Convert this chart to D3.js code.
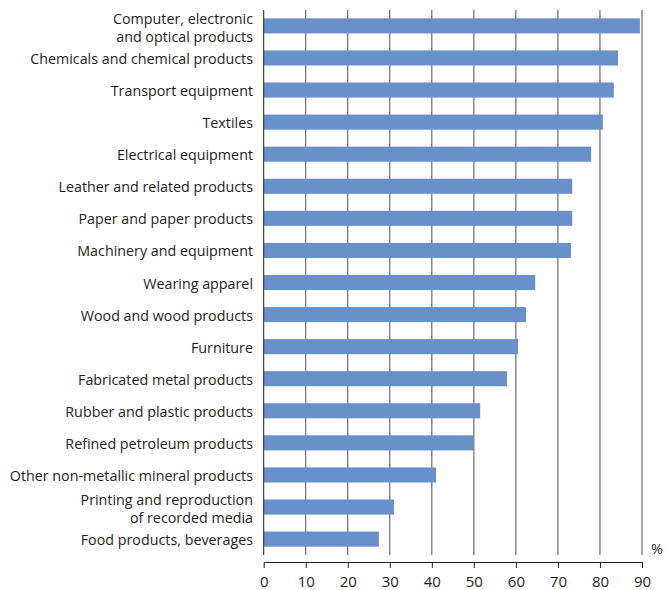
<!DOCTYPE html>
<html>
  <head>
    <meta charset="utf-8" />
    <script src="https://d3js.org/d3.v7.min.js"></script>
    <style>
      body { margin: 0; background: white; }
      text { font-family: "Open Sans", sans-serif; fill: #231f20; }
    </style>
  </head>
  <body>
    <svg id="canvas" width="668" height="590"></svg>
    <script>
      let categories = [
        "Computer, electronic|and optical products",
        "Chemicals and chemical products",
        "Transport equipment",
        "Textiles",
        "Electrical equipment",
        "Leather and related products",
        "Paper and paper products",
        "Machinery and equipment",
        "Wearing apparel",
        "Wood and wood products",
        "Furniture",
        "Fabricated metal products",
        "Rubber and plastic products",
        "Refined petroleum products",
        "Other non-metallic mineral products",
        "Printing and reproduction|of recorded media",
        "Food products, beverages",
      ];
      let values = [89.5, 84.3, 83.3, 80.7, 77.9, 73.4, 73.4, 73.1, 64.6, 62.4, 60.5, 57.9, 51.5, 49.8, 41.0, 31.0, 27.4];
      let ticks = [0, 10, 20, 30, 40, 50, 60, 70, 80, 90];

      let data = categories.map((c, i) => ({ name: c, value: values[i] }));

      let svg = d3.select("#canvas");

      let xScale = d3.scaleLinear().domain([0, 90]).range([263.7, 642]);
      let yScale = d3.scaleBand().domain(categories).range([10, 555]).paddingInner(0.53).paddingOuter(0.26);

      // Gridlines
      svg.append("g")
        .selectAll("line")
        .data(ticks.slice(1))
        .enter()
        .append("line")
        .attr("x1", (d) => xScale(d))
        .attr("x2", (d) => xScale(d))
        .attr("y1", 10)
        .attr("y2", 555)
        .style("stroke", "#4d4d4f")
        .style("stroke-width", "1px");

      // Bars
      svg.append("g")
        .selectAll("rect")
        .data(data)
        .enter()
        .append("rect")
        .attr("x", xScale(0))
        .attr("y", (d) => yScale(d.name))
        .attr("width", (d) => xScale(d.value) - xScale(0))
        .attr("height", yScale.bandwidth())
        .attr("fill", "#6990c9");

      // Vertical axis line
      svg.append("line")
        .attr("x1", xScale(0))
        .attr("x2", xScale(0))
        .attr("y1", 10)
        .attr("y2", 555)
        .style("stroke", "#231f20")
        .style("stroke-width", "1px");

      // Category labels
      let labels = svg.append("g")
        .selectAll("text")
        .data(data)
        .enter()
        .append("text")
        .attr("text-anchor", "end")
        .style("font-size", "14.3px")
        .attr("y", (d) => yScale(d.name) + yScale.bandwidth() / 2 + 1);

      labels.each(function (d) {
        let lines = d.name.split("|");
        let t = d3.select(this);
        lines.forEach((l, i) => {
          t.append("tspan")
            .attr("x", 253)
            .attr("dy", i == 0 ? (lines.length == 1 ? "0.35em" : "-0.2em") : "1.25em")
            .text(l);
        });
      });

      // x axis
      let xAxis = d3.axisBottom(xScale).tickValues(ticks).tickSize(6).tickSizeOuter(0).tickFormat(d3.format("d"));
      let xLine = svg.append("g")
        .attr("transform", "translate(0,562)")
        .call(xAxis);
      xLine.select(".domain").style("stroke", "#231f20");
      xLine.selectAll(".tick line").style("stroke", "#231f20");
      xLine.selectAll(".tick text")
        .attr("y", 14)
        .style("font-size", "15px")
        .style("font-family", "Open Sans, sans-serif")
        .style("fill", "#231f20");

      svg.append("text")
        .text("%")
        .attr("x", 651)
        .attr("y", 554)
        .style("font-size", "14.5px");
    </script>
  </body>
</html>
